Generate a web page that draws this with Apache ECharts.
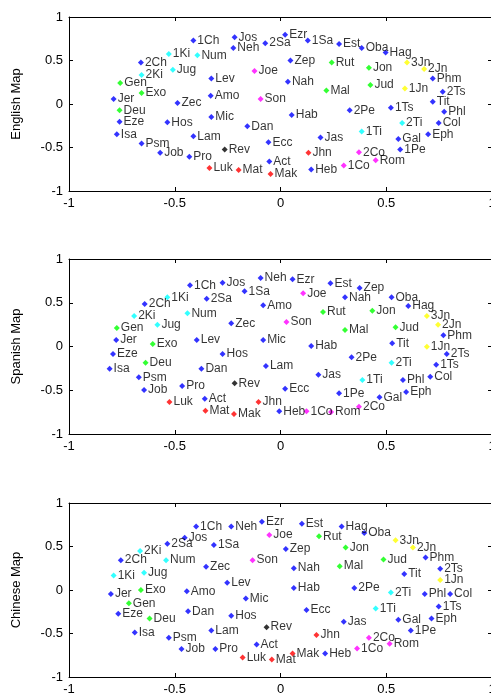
<!DOCTYPE html>
<html><head><meta charset="utf-8">
<script src="https://cdn.jsdelivr.net/npm/echarts@6/dist/echarts.min.js"></script>
<style>html,body{margin:0;padding:0;background:#fff}#c{width:491px;height:696px}</style>
</head><body><div id="c"></div>
<script>
var books = ['Gen','Exo','Lev','Num','Deu','Jos','Jug','Rut','1Sa','2Sa','1Ki','2Ki','1Ch','2Ch','Ezr','Neh','Est','Job','Psm','Pro','Ecc','Son','Isa','Jer','Lam','Eze','Dan','Hos','Joe','Amo','Oba','Jon','Mic','Nah','Hab','Zep','Hag','Zec','Mal','Mat','Mak','Luk','Jhn','Act','Rom','1Co','2Co','Gal','Eph','Phl','Col','1Ts','2Ts','1Ti','2Ti','Tit','Phm','Heb','Jas','1Pe','2Pe','1Jn','2Jn','3Jn','Jud','Rev'];
var groups = ['g','g','b','c','g','b','c','g','b','b','c','c','b','b','b','b','b','b','b','b','b','m','b','b','b','b','b','b','m','b','b','g','b','b','b','b','b','b','g','r','r','r','r','b','m','m','m','b','b','b','b','b','b','c','c','b','b','b','b','b','b','y','y','y','g','k'];
var mapTitles = ['English Map','Spanish Map','Chinese Map'];
var axisTicks = [-1,-0.5,0,0.5,1];

var engX = [-0.758,-0.657,-0.327,-0.393,-0.761,-0.217,-0.509,0.242,0.129,-0.072,-0.528,-0.657,-0.412,-0.660,0.022,-0.223,0.277,-0.569,-0.657,-0.431,-0.057,-0.094,-0.774,-0.789,-0.412,-0.761,-0.157,-0.535,-0.123,-0.330,0.384,0.418,-0.327,0.035,0.053,0.047,0.497,-0.487,0.217,-0.198,-0.047,-0.336,0.132,-0.053,0.450,0.299,0.371,0.557,0.698,0.774,0.748,0.522,0.767,0.384,0.575,0.720,0.720,0.145,0.189,0.566,0.327,0.588,0.679,0.598,0.425,-0.264];
var engY = [0.240,0.126,0.293,0.561,-0.073,0.767,0.393,0.477,0.729,0.699,0.576,0.332,0.729,0.477,0.797,0.645,0.691,-0.561,-0.455,-0.607,-0.440,0.057,-0.348,0.057,-0.371,-0.203,-0.256,-0.211,0.378,0.095,0.645,0.416,-0.149,0.255,-0.126,0.500,0.591,0.011,0.156,-0.760,-0.806,-0.737,-0.561,-0.661,-0.646,-0.707,-0.554,-0.401,-0.348,-0.088,-0.218,-0.042,0.141,-0.317,-0.218,0.026,0.293,-0.753,-0.386,-0.523,-0.073,0.179,0.401,0.477,0.218,-0.523];

var spaX = [-0.774,-0.604,-0.396,-0.440,-0.638,-0.274,-0.582,0.201,-0.170,-0.349,-0.535,-0.692,-0.428,-0.642,0.057,-0.094,0.236,-0.645,-0.670,-0.465,0.022,0.028,-0.808,-0.777,-0.069,-0.792,-0.374,-0.274,0.107,-0.082,0.525,0.434,-0.082,0.305,0.145,0.374,0.604,-0.233,0.305,-0.355,-0.220,-0.525,-0.104,-0.358,0.239,0.123,0.371,0.468,0.594,0.579,0.708,0.736,0.786,0.387,0.525,0.528,0.770,-0.006,0.179,0.277,0.336,0.692,0.745,0.692,0.544,-0.217];
var spaY = [0.211,0.029,0.074,0.379,-0.185,0.729,0.249,0.394,0.631,0.546,0.562,0.349,0.699,0.486,0.768,0.783,0.722,-0.497,-0.352,-0.451,-0.482,0.280,-0.254,0.074,-0.223,-0.086,-0.254,-0.086,0.608,0.471,0.562,0.409,0.074,0.562,0.006,0.669,0.463,0.265,0.189,-0.734,-0.771,-0.634,-0.634,-0.597,-0.749,-0.741,-0.688,-0.581,-0.520,-0.383,-0.345,-0.208,-0.086,-0.383,-0.185,0.037,0.128,-0.741,-0.322,-0.535,-0.124,-0.002,0.249,0.349,0.219,-0.421];

var chiX = [-0.717,-0.660,-0.252,-0.541,-0.619,-0.453,-0.645,0.182,-0.315,-0.535,-0.789,-0.664,-0.399,-0.755,-0.088,-0.233,0.101,-0.468,-0.528,-0.308,0.123,-0.132,-0.689,-0.802,-0.327,-0.767,-0.437,-0.233,-0.053,-0.443,0.396,0.308,-0.164,0.063,0.063,0.025,0.289,-0.352,0.280,-0.041,0.057,-0.179,0.170,-0.113,0.516,0.362,0.418,0.557,0.714,0.682,0.802,0.748,0.755,0.450,0.522,0.585,0.686,0.211,0.299,0.616,0.349,0.755,0.626,0.544,0.487,-0.066];
var chiY = [-0.152,0.000,0.084,0.343,-0.328,0.602,0.198,0.617,0.518,0.533,0.168,0.449,0.731,0.343,0.785,0.731,0.762,-0.678,-0.549,-0.678,-0.229,0.343,-0.488,-0.046,-0.465,-0.274,-0.244,-0.297,0.632,-0.015,0.655,0.488,-0.099,0.251,0.023,0.472,0.731,0.267,0.274,-0.800,-0.731,-0.777,-0.518,-0.625,-0.617,-0.671,-0.549,-0.343,-0.328,-0.046,-0.046,-0.190,0.244,-0.213,-0.030,0.183,0.373,-0.731,-0.366,-0.465,0.023,0.114,0.488,0.571,0.351,-0.427];

var colorOf = {b:'#0000ff',c:'#00ffff',g:'#00ff00',m:'#ff00ff',y:'#ffff00',r:'#ff0000',k:'#000000'};
var maps = [[engX,engY],[spaX,spaY],[chiX,chiY]];
var tops = [17,259,503];
var heights = [174,175,174];
var FONT = '"Liberation Sans", Arial, sans-serif';

var grids=[],xAxes=[],yAxes=[],series=[];
maps.forEach(function(m,i){
  grids.push({left:69,top:tops[i],width:423,height:heights[i],show:false,containLabel:false,outerBoundsMode:'none'});
  var common = {min:axisTicks[0],max:axisTicks[axisTicks.length-1],interval:0.5,gridIndex:i,
    axisLine:{show:true,onZero:false,lineStyle:{color:'#000',width:1}},
    axisTick:{show:true,inside:true,length:4,lineStyle:{color:'#000'}},
    splitLine:{show:false}};
  xAxes.push(Object.assign({},common,{type:'value',position:'bottom',
    axisLabel:{show:true,color:'#000',fontSize:13,fontFamily:FONT,margin:6,hideOverlap:false,
      formatter:function(v){return String(v);}}}));
  xAxes.push(Object.assign({},common,{type:'value',position:'top',axisLabel:{show:false}}));
  yAxes.push(Object.assign({},common,{type:'value',position:'left',
    name:mapTitles[i],nameLocation:'middle',nameGap:46,nameRotate:90,
    nameTextStyle:{color:'#000',fontSize:13,fontFamily:FONT},
    axisLabel:{show:true,color:'#000',fontSize:13,fontFamily:FONT,margin:6,
      formatter:function(v){return String(v);}}}));
  yAxes.push(Object.assign({},common,{type:'value',position:'right',axisLabel:{show:false}}));
  var data = books.map(function(b,k){
    return {value:[m[0][k],m[1][k]],name:b,itemStyle:{color:colorOf[groups[k]]}};
  });
  series.push({type:'scatter',xAxisIndex:2*i,yAxisIndex:2*i,symbol:'diamond',symbolSize:6,
    data:data,silent:true,animation:false,
    label:{show:true,position:'right',distance:1,formatter:'{b}',color:'#000',fontSize:12,fontFamily:FONT}});
});

var chart = echarts.init(document.getElementById('c'),null,{renderer:'canvas'});
chart.setOption({animation:false,grid:grids,xAxis:xAxes,yAxis:yAxes,series:series});
</script></body></html>
